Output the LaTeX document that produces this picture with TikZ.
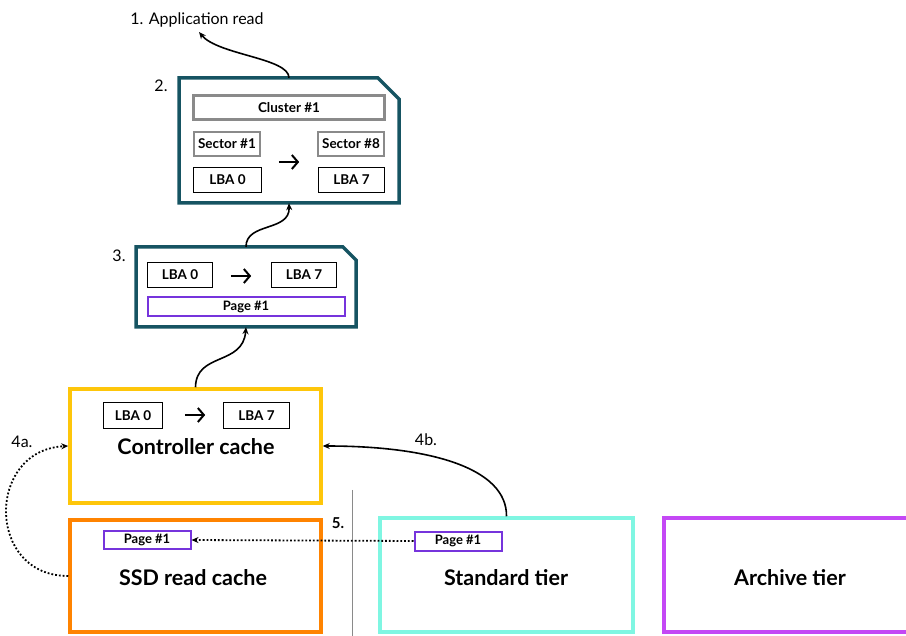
\documentclass[tikz,border=0pt]{standalone}
\usepackage{fontspec}
\setmainfont{Lato}
\usetikzlibrary{arrows.meta}
\definecolor{tealdark}{RGB}{22,84,98}
\definecolor{ccyellow}{RGB}{254,198,10}
\definecolor{ssdorange}{RGB}{255,131,0}
\definecolor{stdaqua}{RGB}{127,246,226}
\definecolor{archpurple}{RGB}{196,72,245}
\definecolor{pagepurple}{RGB}{118,52,220}
\definecolor{boxgray}{RGB}{138,138,138}
\tikzset{
  tier/.style={draw, line width=3.5pt, minimum width=#1, minimum height=113pt, inner sep=0pt},
  graybox/.style={draw=boxgray, line width=2.4pt, inner sep=0pt, font=\bfseries\fontsize{13.5}{13.5}\selectfont},
  lbabox/.style={draw=black, line width=1.8pt, inner sep=0pt, font=\bfseries\fontsize{13.5}{13.5}\selectfont},
  pagebox/.style={draw=pagepurple, line width=2pt, inner sep=0pt, font=\bfseries\fontsize{13}{13}\selectfont},
  flow/.style={line width=1.6pt, -{Stealth[length=7pt,width=6pt]}},
  dotflow/.style={line width=1.8pt, dotted, -{Stealth[length=7pt,width=6pt]}},
  small/.style={font=\fontsize{16}{16}\selectfont},
  big/.style={font=\bfseries\fontsize{21.5}{21.5}\selectfont},
  mapslot/.style={inner sep=0pt, minimum width=20pt, minimum height=16pt},
  mapline/.style={line width=2pt, -{Straight Barb[length=6pt,width=14pt,line width=2pt]}}
}
\begin{document}
\begin{tikzpicture}[x=1pt,y=-1pt]
\useasboundingbox (0,0) rectangle (906,636);
\clip (0,0) rectangle (906,636);

% step 1: the application request
\node[small, anchor=base] (app) at (197,25) {1. Application read};
\coordinate (append) at (199,32);

% step 2: cluster made of sectors
\draw[tealdark, line width=3.5pt, line join=miter]
  (179,78) -- (378,78) -- (399,99) -- (399,203) -- (179,203) -- cycle;
\node[inner sep=0pt, minimum width=220pt, minimum height=125pt] (box2) at (289,140.5) {};
\node[small, anchor=base] (n2) at (161,92) {2.};
\node[graybox, minimum width=191pt, minimum height=24pt] (cluster) at (289,107.5) {Cluster \#1};
\node[graybox, minimum width=66pt, minimum height=24pt] (sec1) at (227,144) {Sector \#1};
\node[graybox, minimum width=66pt, minimum height=24pt] (sec8) at (351,144) {Sector \#8};
\node[lbabox, minimum width=68pt, minimum height=25pt] (lbaA) at (227.5,180) {LBA 0};
\node[lbabox, minimum width=66pt, minimum height=25pt] (lbaB) at (351.5,180) {LBA 7};
\node[mapslot] (arr2) at (289,162) {};
\draw[mapline] (arr2.west) -- (arr2.east);

% step 3: the page
\draw[tealdark, line width=3.5pt, line join=miter]
  (136,247) -- (343,247) -- (356,260) -- (356,327) -- (136,327) -- cycle;
\node[inner sep=0pt, minimum width=220pt, minimum height=80pt] (box3) at (246,287) {};
\node[small, anchor=base] (n3) at (119,262) {3.};
\node[lbabox, minimum width=65pt, minimum height=25pt] (lbaC) at (180,275) {LBA 0};
\node[lbabox, minimum width=65pt, minimum height=25pt] (lbaD) at (304,275) {LBA 7};
\node[mapslot] (arr3) at (241,276) {};
\draw[mapline] (arr3.west) -- (arr3.east);
\node[pagebox, minimum width=197pt, minimum height=19pt] (page3) at (246,307) {Page \#1};

% controller cache
\node[tier=251pt, draw=ccyellow, minimum height=114pt] (cc) at (195.5,446) {};
\node[big] (cclabel) at (196,447) {Controller cache};
\node[lbabox, minimum width=59pt, minimum height=26pt] (lbaE) at (133,415.5) {LBA 0};
\node[lbabox, minimum width=66pt, minimum height=26pt] (lbaF) at (256.5,415.5) {LBA 7};
\node[mapslot] (arrc) at (195,415) {};
\draw[mapline] (arrc.west) -- (arrc.east);

% SSD read cache
\node[tier=251pt, draw=ssdorange, minimum height=112pt] (ssd) at (195.5,576) {};
\node[big] (ssdlabel) at (193,578) {SSD read cache};
\node[pagebox, minimum width=87pt, minimum height=18pt] (pageS) at (147,540) {Page \#1};

% standard tier
\node[tier=253pt, draw=stdaqua, minimum height=114pt] (std) at (506.5,575) {};
\node[big] (stdlabel) at (506,578) {Standard tier};
\node[pagebox, minimum width=87pt, minimum height=19pt] (pageT) at (458,541) {Page \#1};

% archive tier
\node[tier=258pt, draw=archpurple, minimum height=114pt] (arch) at (793,575) {};
\node[big] (archlabel) at (790,578) {Archive tier};

% separator between cache and tiers
\coordinate (sepTop) at (352,490);
\coordinate (sepBot) at (352,636);
\draw[boxgray, line width=1pt] (sepTop) -- (sepBot);

% step labels
\node[small, anchor=base] (n4a) at (22,448) {4a.};
\node[small, anchor=base] (n4b) at (426,446) {4b.};
\node[font=\bfseries\fontsize{15}{15}\selectfont, anchor=base] (n5) at (338,529) {5.};

% data path connectors
\draw[flow] (box2.north) .. controls (289,58) and (218,55) .. (append);
\draw[flow] (box3.north) .. controls (246,222) and (290,232) .. (box2.south);
\draw[flow] (cc.north) .. controls (196,352) and (243,366) .. (box3.south);
\draw[flow] (std.north) .. controls (507,468) and (430,446) .. (cc.east);
\draw[dotflow] (ssd.west) .. controls (-14,576) and (-14,450) .. (cc.west);
\draw[dotflow] (pageT.west) -- (pageS.east);
\end{tikzpicture}
\end{document}
